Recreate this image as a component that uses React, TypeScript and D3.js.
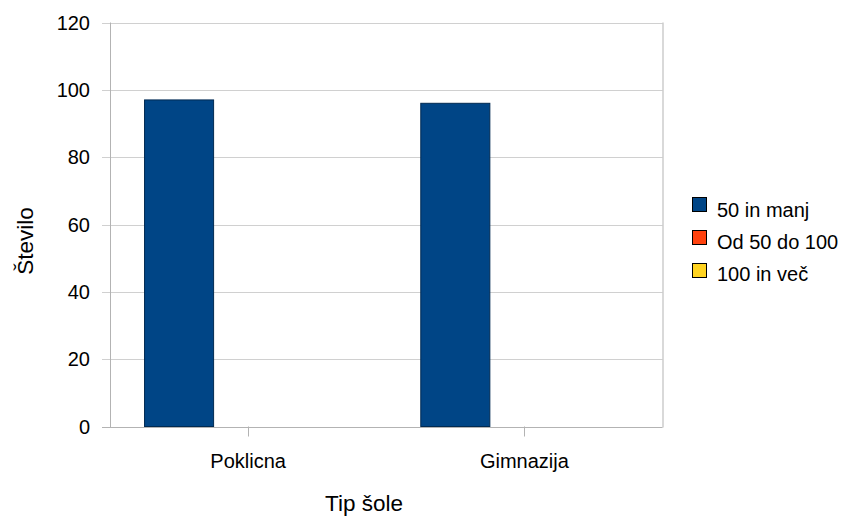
import React from "react";
import * as d3 from "d3";

const categories = ["Poklicna", "Gimnazija"];
const seriesNames = ["50 in manj", "Od 50 do 100", "100 in več"];
const seriesColors = ["#004586", "#ff420e", "#ffd320"];
const seriesStroke = ["#002a52", "#8a2000", "#8a7000"];
const values: number[][] = [
  [97, 96],
  [0, 0],
  [0, 0],
];
const yTicks = [0, 20, 40, 60, 80, 100, 120];

export default function App() {
  const W = 848, H = 517;
  const left = 110, right = 662.5, top = 22.5, bottom = 426.5;
  const font = "'Liberation Sans', Arial, sans-serif";
  const x0 = d3.scaleBand<string>().domain(categories).range([left, right]).paddingInner(0).paddingOuter(0);
  const y = d3.scaleLinear().domain([0, 120]).range([bottom, top]);
  const bw = x0.bandwidth() * 0.25;
  const off = (x0.bandwidth() - 3 * bw) / 2;
  return (
    <svg width={W} height={H} style={{ position: "absolute", left: 0, top: 0, background: "#fff" }}>
      <rect x={0} y={0} width={W} height={H} fill="#fff" />
      {yTicks.map((t) => (
        <g key={t}>
          <line x1={left - 8} x2={right} y1={Math.round(y(t)) + 0.5} y2={Math.round(y(t)) + 0.5} stroke={t === 0 ? "#b3b3b3" : "#d0d0d0"} strokeWidth={1} />
          <text x={90} y={y(t)} dy="0.35em" textAnchor="end" fontFamily={font} fontSize={20} fill="#000">{t}</text>
        </g>
      ))}
      <line x1={left + 0.5} x2={left + 0.5} y1={top} y2={bottom + 1} stroke="#b3b3b3" />
      <line x1={right + 0.5} x2={right + 0.5} y1={top} y2={bottom + 1} stroke="#b3b3b3" />
      {categories.map((c) => {
        const cx = (x0(c) as number) + x0.bandwidth() / 2;
        return (
          <g key={c}>
            <line x1={Math.round(cx) + 0.5} x2={Math.round(cx) + 0.5} y1={bottom} y2={bottom + 10} stroke="#b3b3b3" />
            <text x={cx} y={468} textAnchor="middle" fontFamily={font} fontSize={20} fill="#000">{c}</text>
          </g>
        );
      })}
      {values.map((s, si) =>
        s.map((v, ci) => {
          if (v <= 0) return null;
          const bx = (x0(categories[ci]) as number) + off + si * bw;
          return (
            <rect key={si + "-" + ci} x={bx} y={y(v)} width={bw} height={y(0) - y(v)} fill={seriesColors[si]} stroke={seriesStroke[si]} strokeWidth={1} />
          );
        })
      )}
      <text transform={`translate(33,241) rotate(-90)`} textAnchor="middle" fontFamily={font} fontSize={22.5} fill="#000">Število</text>
      <text x={364} y={511} textAnchor="middle" fontFamily={font} fontSize={22.5} fill="#000">Tip šole</text>
      {seriesNames.map((n, i) => (
        <g key={n}>
          <rect x={692.5} y={197.5 + i * 33} width={14} height={14} fill={seriesColors[i]} stroke="#000" strokeWidth={1} />
          <text x={717} y={210 + i * 32} dy="0.35em" fontFamily={font} fontSize={20} fill="#000">{n}</text>
        </g>
      ))}
    </svg>
  );
}
